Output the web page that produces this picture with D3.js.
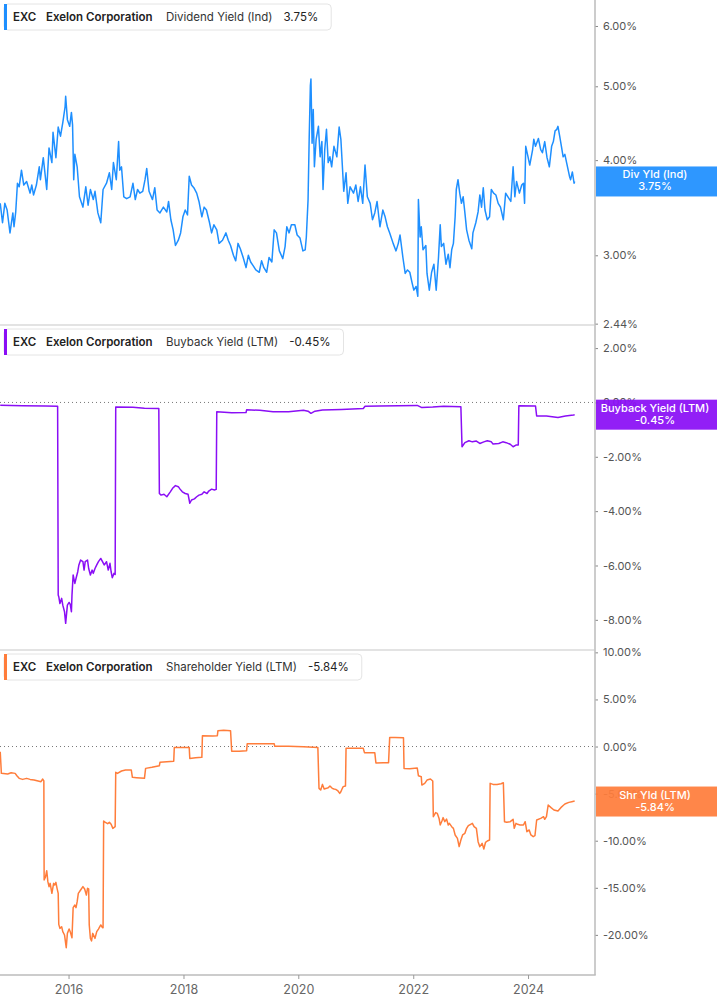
<!DOCTYPE html>
<html><head><meta charset="utf-8">
<script src="https://cdn.jsdelivr.net/npm/d3@7"></script>
<style>
html,body{margin:0;padding:0;background:#fff;}
svg{display:block;font-family:Inter,"Noto Sans",sans-serif;}
</style></head>
<body><svg id="chart" width="717" height="1005"></svg>
<script>
// ---------- DATA ----------
const ticker = "EXC";
const company = "Exelon Corporation";
const seriesNames = ["Dividend Yield (Ind)", "Buyback Yield (LTM)", "Shareholder Yield (LTM)"];
const shortNames = ["Div Yld (Ind)", "Buyback Yield (LTM)", "Shr Yld (LTM)"];
const lastValues = [3.75, -0.45, -5.84];
const xTickYears = [2016, 2018, 2020, 2022, 2024];
const divTicks = [6, 5, 4, 3, 2.44];
const buyTicks = [2, 0, -2, -4, -6, -8];
const shrTicks = [10, 5, 0, -5, -10, -15, -20];
const xStartYear = 2014.806, xEndYear = 2025.164;
const divDomain = [2.43, 6.49], buyDomain = [-9.11, 2.85], shrDomain = [-24.26, 10.25];

const divDates = [2014.81,2014.85,2014.89,2014.93,2014.98,2015.03,2015.05,2015.08,2015.11,2015.14,2015.18,2015.22,2015.27,2015.33,2015.36,2015.39,2015.44,2015.49,2015.51,2015.56,2015.62,2015.66,2015.71,2015.73,2015.78,2015.82,2015.86,2015.90,2015.94,2015.95,2015.98,2016.02,2016.05,2016.07,2016.09,2016.11,2016.15,2016.19,2016.25,2016.30,2016.34,2016.38,2016.43,2016.46,2016.51,2016.56,2016.60,2016.66,2016.71,2016.75,2016.78,2016.83,2016.87,2016.89,2016.92,2016.96,2017.01,2017.07,2017.12,2017.16,2017.20,2017.24,2017.29,2017.33,2017.36,2017.40,2017.46,2017.50,2017.54,2017.59,2017.65,2017.71,2017.74,2017.78,2017.82,2017.86,2017.91,2017.95,2017.99,2018.03,2018.07,2018.10,2018.14,2018.18,2018.23,2018.27,2018.32,2018.36,2018.40,2018.45,2018.49,2018.53,2018.58,2018.62,2018.68,2018.74,2018.78,2018.82,2018.87,2018.91,2018.95,2018.99,2019.04,2019.09,2019.13,2019.17,2019.21,2019.26,2019.32,2019.36,2019.40,2019.45,2019.49,2019.54,2019.58,2019.62,2019.67,2019.73,2019.77,2019.80,2019.84,2019.88,2019.94,2019.98,2020.03,
2020.08,2020.12,2020.14,2020.17,2020.19,2020.21,2020.22,2020.24,2020.26,2020.28,2020.31,2020.35,2020.38,2020.41,2020.43,2020.46,2020.49,2020.52,2020.55,2020.58,2020.62,2020.67,2020.71,2020.74,2020.77,2020.79,2020.83,2020.86,2020.90,2020.96,2021.00,2021.04,2021.08,2021.12,2021.16,2021.20,2021.25,2021.29,2021.33,2021.37,2021.42,2021.47,2021.51,2021.55,2021.59,2021.65,2021.70,2021.74,2021.77,2021.82,2021.86,2021.90,2021.94,2021.98,2022.01,2022.05,2022.08,2022.09,2022.12,2022.14,2022.17,2022.22,2022.24,2022.28,2022.32,2022.36,2022.40,2022.44,2022.47,2022.49,2022.53,2022.57,2022.61,2022.64,2022.67,2022.70,2022.73,2022.75,2022.78,2022.81,2022.84,2022.87,2022.90,2022.93,2022.97,2023.02,2023.04,2023.09,2023.13,2023.16,2023.19,2023.22,2023.25,2023.29,2023.33,2023.36,2023.40,2023.44,2023.48,2023.52,2023.57,2023.61,2023.65,2023.70,2023.74,2023.77,2023.80,2023.85,2023.89,2023.92,2023.94,2023.96,2024.00,2024.03,2024.08,2024.10,2024.13,2024.18,2024.22,2024.25,2024.29,2024.33,2024.37,2024.41,2024.44,2024.47,2024.50,2024.52,2024.55,2024.58,2024.61,2024.64,2024.67,2024.72,2024.74,2024.77,2024.80,2024.81];
const divValues = [3.51,3.31,3.51,3.44,3.21,3.41,3.27,3.42,3.73,3.69,3.88,3.71,3.75,3.62,3.71,3.60,3.71,3.92,3.77,4.03,3.66,4.15,3.97,4.35,4.03,4.42,4.30,4.48,4.70,4.85,4.52,4.43,4.62,4.45,3.77,4.07,3.92,3.58,3.47,3.69,3.49,3.66,3.55,3.64,3.41,3.31,3.66,3.73,3.85,3.66,3.97,3.77,4.23,3.88,3.92,3.58,3.56,3.58,3.73,3.55,3.66,3.62,3.64,3.77,3.90,3.64,3.55,3.68,3.44,3.41,3.47,3.42,3.53,3.34,3.24,3.09,3.14,3.21,3.37,3.44,3.39,3.81,3.71,3.68,3.62,3.53,3.37,3.47,3.44,3.32,3.21,3.29,3.24,3.11,3.14,3.21,3.14,3.09,3.00,2.95,3.11,3.06,2.98,2.89,3.00,2.94,2.91,2.87,2.85,2.95,2.89,2.85,2.98,2.94,3.24,3.21,3.04,2.97,3.08,3.27,3.21,3.29,3.29,3.19,3.16,
3.04,3.05,3.17,3.55,4.29,5.01,5.11,4.21,4.66,3.92,4.26,4.43,4.04,4.23,3.66,4.13,4.39,3.97,4.04,3.92,4.17,4.04,4.42,4.26,3.88,3.64,3.85,3.51,3.69,3.62,3.71,3.53,3.69,3.51,3.94,3.58,3.51,3.34,3.41,3.53,3.27,3.44,3.37,3.27,3.21,3.11,3.04,3.11,3.19,2.98,2.84,2.87,2.85,2.76,2.70,2.73,2.65,3.55,3.17,3.27,3.05,3.09,2.84,2.70,2.85,2.92,2.70,2.98,3.29,3.08,3.11,2.92,3.01,2.89,3.05,3.11,3.37,3.66,3.77,3.62,3.51,3.58,3.41,3.24,3.14,3.06,3.21,3.31,3.42,3.60,3.47,3.68,3.44,3.34,3.37,3.66,3.62,3.60,3.51,3.47,3.34,3.62,3.58,3.53,3.92,3.58,3.75,3.62,3.71,3.73,3.51,4.17,4.04,3.94,4.13,4.26,4.17,4.27,4.13,4.09,4.23,4.03,3.92,4.17,4.23,4.37,4.39,4.43,4.30,4.17,4.04,4.07,3.97,3.81,3.77,3.86,3.73,3.75];

const buyDates = [2014.81,2015.20,2015.60,2015.81,2015.82,2015.83,2015.85,2015.88,2015.90,2015.93,2015.95,2015.98,2016.01,2016.03,2016.05,2016.06,2016.08,2016.11,2016.13,2016.16,2016.18,2016.21,2016.25,2016.27,2016.29,2016.33,2016.35,2016.38,2016.41,2016.43,2016.46,2016.49,2016.52,2016.56,2016.59,2016.62,2016.66,2016.69,2016.72,2016.74,2016.76,2016.79,2016.81,2016.82,2017.12,2017.32,2017.57,2017.58,2017.61,2017.66,2017.71,2017.77,2017.81,2017.86,2017.91,2017.94,2017.98,2018.03,2018.08,2018.11,2018.14,2018.19,2018.23,2018.27,2018.32,2018.36,2018.41,2018.44,2018.49,2018.54,2018.57,2018.58,2018.84,2019.09,2019.10,2019.33,2019.56,2019.83,2020.09,2020.17,2020.22,2020.29,2020.42,2020.75,2021.13,2021.16,2021.41,2022.07,2022.15,2022.34,2022.53,2022.83,2022.85,2022.90,2022.97,2023.03,2023.10,2023.16,2023.23,2023.29,2023.36,2023.39,2023.49,2023.56,2023.62,2023.69,2023.74,2023.79,2023.83,2023.84,2024.13,2024.15,2024.32,2024.52,2024.65,2024.79,2024.81];
const buyValues = [-0.10,-0.12,-0.13,-0.14,-7.09,-7.15,-7.40,-7.21,-7.46,-7.70,-8.13,-7.46,-7.36,-7.43,-7.70,-7.09,-6.35,-6.66,-6.48,-6.23,-5.98,-5.80,-5.86,-6.17,-5.86,-5.80,-6.11,-6.35,-6.17,-6.29,-6.11,-5.98,-5.86,-5.74,-5.86,-5.98,-5.86,-6.17,-5.92,-6.23,-6.45,-6.29,-6.33,-0.17,-0.18,-0.21,-0.22,-3.35,-3.41,-3.38,-3.47,-3.29,-3.16,-3.06,-3.10,-3.19,-3.29,-3.35,-3.38,-3.71,-3.59,-3.55,-3.47,-3.41,-3.38,-3.29,-3.35,-3.26,-3.19,-3.22,-3.20,-0.34,-0.38,-0.37,-0.27,-0.29,-0.34,-0.34,-0.29,-0.32,-0.40,-0.32,-0.28,-0.26,-0.22,-0.14,-0.13,-0.11,-0.19,-0.17,-0.14,-0.16,-1.63,-1.48,-1.41,-1.45,-1.42,-1.51,-1.45,-1.41,-1.45,-1.53,-1.51,-1.45,-1.48,-1.54,-1.63,-1.57,-1.57,-0.12,-0.13,-0.50,-0.50,-0.55,-0.50,-0.46,-0.45];

const shrDates = [2014.81,2014.83,2014.94,2015.00,2015.07,2015.10,2015.14,2015.20,2015.27,2015.33,2015.40,2015.47,2015.52,2015.55,2015.57,2015.575,2015.60,2015.62,2015.64,2015.66,2015.68,2015.71,2015.74,2015.76,2015.78,2015.80,2015.82,2015.83,2015.85,2015.88,2015.90,2015.93,2015.96,2015.98,2016.01,2016.03,2016.06,2016.08,2016.11,2016.13,2016.15,2016.17,2016.21,2016.25,2016.28,2016.31,2016.33,2016.35,2016.36,2016.38,2016.40,2016.42,2016.46,2016.49,2016.52,2016.56,2016.59,2016.60,2016.61,2016.64,2016.68,2016.71,2016.74,2016.77,2016.81,2016.82,2016.85,2016.92,2016.99,2017.09,2017.11,2017.18,2017.32,2017.34,2017.45,2017.58,2017.59,2017.71,2017.83,2017.84,2017.98,2018.10,2018.11,2018.21,2018.32,2018.33,2018.51,2018.59,2018.60,2018.70,2018.82,2018.84,2018.97,2019.10,2019.11,2019.30,2019.58,2019.59,2019.83,2020.09,2020.34,2020.36,2020.39,2020.42,2020.45,2020.49,2020.52,2020.55,2020.59,2020.62,2020.65,2020.69,2020.72,2020.74,2020.76,2020.78,2020.82,2020.83,2020.95,2021.13,2021.15,2021.25,2021.33,2021.35,2021.48,2021.57,2021.59,2021.68,2021.83,2021.84,2021.94,2022.07,2022.09,2022.14,2022.15,2022.20,2022.24,2022.30,2022.34,2022.35,2022.39,2022.42,2022.45,2022.47,2022.50,2022.52,2022.55,2022.58,2022.61,2022.63,2022.67,2022.70,2022.73,2022.77,2022.80,2022.83,2022.86,2022.90,2022.93,2022.96,2023.00,2023.03,2023.06,2023.10,2023.13,2023.16,2023.20,2023.23,2023.26,2023.29,2023.33,2023.34,2023.39,2023.46,2023.53,2023.57,2023.59,2023.63,2023.69,2023.74,2023.76,2023.79,2023.82,2023.86,2023.92,2023.95,2023.98,2024.02,2024.05,2024.09,2024.12,2024.15,2024.22,2024.27,2024.29,2024.32,2024.35,2024.40,2024.45,2024.52,2024.57,2024.62,2024.65,2024.71,2024.76,2024.81];
const shrValues = [-0.55,-2.85,-2.92,-2.78,-2.85,-3.10,-3.38,-3.49,-3.38,-3.49,-3.56,-3.66,-3.73,-3.45,-3.66,-14.17,-13.82,-13.18,-14.35,-14.88,-14.53,-15.59,-14.53,-14.70,-14.42,-15.06,-15.59,-18.88,-19.31,-19.13,-19.66,-20.01,-21.36,-19.84,-19.38,-19.66,-20.30,-17.11,-16.83,-17.11,-16.47,-15.59,-15.23,-14.88,-15.13,-15.77,-15.06,-15.13,-18.95,-20.37,-20.65,-19.84,-20.37,-19.66,-19.38,-18.95,-19.24,-19.24,-7.91,-8.05,-8.19,-8.05,-8.26,-8.69,-8.51,-2.74,-2.85,-2.60,-2.49,-2.49,-3.27,-3.31,-3.38,-2.32,-2.21,-2.03,-1.68,-1.61,-1.57,-0.09,-0.09,-0.09,-1.26,-1.19,-1.15,1.15,1.11,1.15,1.68,1.72,1.68,-0.51,-0.51,-0.44,0.30,0.30,0.30,0.02,0.02,-0.02,-0.09,-4.44,-4.62,-4.02,-4.51,-4.44,-4.37,-4.19,-4.44,-4.51,-4.55,-4.72,-4.97,-4.80,-4.51,-4.26,-4.19,-0.19,-0.19,-0.19,-0.65,-0.65,-0.65,-1.75,-1.72,-1.72,0.97,0.97,0.94,-2.32,-2.35,-2.28,-3.10,-3.20,-4.09,-3.91,-3.56,-3.45,-3.66,-7.45,-7.02,-7.10,-7.63,-8.33,-7.91,-7.55,-7.98,-7.70,-8.33,-8.16,-8.51,-8.69,-9.39,-9.75,-10.63,-9.93,-9.39,-9.22,-8.69,-8.40,-8.26,-8.16,-8.51,-8.69,-10.10,-10.63,-10.28,-10.88,-10.17,-10.03,-9.93,-3.91,-4.02,-4.02,-3.95,-3.84,-7.98,-8.05,-7.98,-7.73,-8.69,-8.16,-8.26,-8.33,-8.33,-7.98,-9.04,-8.86,-9.39,-9.57,-9.47,-7.80,-7.63,-7.45,-7.73,-7.45,-6.21,-6.49,-6.74,-6.85,-6.49,-6.21,-6.07,-5.93,-5.86,-5.79];

const colors = ["#1e8fff", "#8a0ef5", "#ff7d3b"];

// ---------- LAYOUT ----------
const W = 717, plotRight = 595;
const panels = [{top: 0, bottom: 325}, {top: 325, bottom: 650}, {top: 650, bottom: 975}];

function toDate(y) {
  const yr = Math.floor(y);
  const s = Date.UTC(yr, 0, 1), e = Date.UTC(yr + 1, 0, 1);
  return new Date(s + (y - yr) * (e - s));
}
const pct = v => v.toFixed(2) + "%";

const svg = d3.select("#chart");
const x = d3.scaleUtc().domain([toDate(xStartYear), toDate(xEndYear)]).range([0, plotRight]);

const yScales = [
  d3.scaleLog().domain(divDomain).range([panels[0].bottom, panels[0].top]),
  d3.scaleLinear().domain(buyDomain).range([panels[1].bottom, panels[1].top]),
  d3.scaleLinear().domain(shrDomain).range([panels[2].bottom, panels[2].top])
];
const tickSets = [divTicks, buyTicks, shrTicks];
const dateSets = [divDates, buyDates, shrDates];
const valueSets = [divValues, buyValues, shrValues];

// zero dotted lines
[1, 2].forEach(i => {
  svg.append("line")
    .attr("x1", 0).attr("x2", plotRight)
    .attr("y1", yScales[i](0)).attr("y2", yScales[i](0))
    .attr("stroke", "#777").attr("stroke-width", 1)
    .attr("stroke-dasharray", "1,3");
});

// series
for (let i = 0; i < 3; i++) {
  const data = d3.zip(dateSets[i], valueSets[i]).map(([t, v]) => ({d: toDate(t), v}));
  const line = d3.line().x(d => x(d.d)).y(d => yScales[i](d.v));
  svg.append("path").datum(data)
    .attr("d", line)
    .attr("fill", "none")
    .attr("stroke", colors[i])
    .attr("stroke-width", 1.5)
    .attr("stroke-linejoin", "round");
}

// right axes
for (let i = 0; i < 3; i++) {
  const ax = d3.axisRight(yScales[i]).tickValues(tickSets[i]).tickFormat(pct).tickSize(3).tickPadding(5);
  const g = svg.append("g").attr("transform", `translate(${plotRight},0)`).call(ax);
  g.select(".domain").remove();
  g.selectAll(".tick line").attr("stroke", "#888");
  g.selectAll(".tick text").attr("fill", "#555").style("font-size", "11px").style("font-family", "Inter, sans-serif");
}

// frame lines
svg.append("line").attr("x1", plotRight).attr("x2", plotRight).attr("y1", 0).attr("y2", 975)
  .attr("stroke", "#bbb").attr("stroke-width", 1.5);
[325, 650].forEach(yy => {
  svg.append("line").attr("x1", 0).attr("x2", plotRight).attr("y1", yy).attr("y2", yy)
    .attr("stroke", "#c8c8c8").attr("stroke-width", 1.2);
});
svg.append("line").attr("x1", 0).attr("x2", plotRight + 0.75).attr("y1", 975).attr("y2", 975)
  .attr("stroke", "#bbb").attr("stroke-width", 1.5);

// x axis
const xa = d3.axisBottom(x).tickValues(xTickYears.map(y => toDate(y))).tickFormat(d3.utcFormat("%Y")).tickSize(4).tickPadding(6);
const gx = svg.append("g").attr("transform", "translate(0,975)").call(xa);
gx.select(".domain").remove();
gx.selectAll(".tick line").attr("stroke", "#999");
gx.selectAll(".tick text").attr("fill", "#666").style("font-size", "12.5px").style("font-family", "Inter, sans-serif");

// last value boxes
for (let i = 0; i < 3; i++) {
  const yc = yScales[i](lastValues[i]);
  const boxH = 30;
  const by = yc - boxH / 2;
  svg.append("rect").attr("x", plotRight + 1).attr("y", by).attr("width", W - plotRight - 1).attr("height", boxH)
    .attr("fill", colors[i]).attr("opacity", 0.93);
  svg.append("text").attr("x", 655).attr("y", by + 12).attr("text-anchor", "middle")
    .attr("fill", "#fff").style("font-size", "11px").style("font-weight", 500).text(shortNames[i]);
  svg.append("text").attr("x", 655).attr("y", by + 24).attr("text-anchor", "middle")
    .attr("fill", "#fff").style("font-size", "11px").style("font-weight", 500).text(pct(lastValues[i]));
}

// legends
for (let i = 0; i < 3; i++) {
  const top = panels[i].top + 4;
  const g = svg.append("g");
  const t = g.append("text").attr("x", 13).attr("y", top + 17).style("font-size", "11.5px").attr("fill", "#222");
  t.append("tspan").style("font-weight", 600).text(ticker);
  t.append("tspan").attr("x", 46).style("font-weight", 600).text(company);
  t.append("tspan").attr("x", 166).style("font-weight", 400).attr("fill", "#333").text(seriesNames[i]);
  const tv = g.append("text").attr("y", top + 17).style("font-size", "11.5px").attr("fill", "#222").text(pct(lastValues[i]));
  const sn = t.selectAll("tspan").nodes()[2];
  const bb = sn.getBBox();
  tv.attr("x", bb.x + bb.width + 11);
  const vb = tv.node().getBBox();
  const right = vb.x + vb.width + 13;
  g.insert("rect", ":first-child").attr("x", 4).attr("y", top).attr("width", right - 4).attr("height", 26)
    .attr("rx", 4).attr("fill", "#fff").attr("stroke", "#e4e4e4");
  g.insert("rect", "text").attr("x", 4).attr("y", top).attr("width", 3).attr("height", 26).attr("fill", colors[i]);
}
</script></body></html>
